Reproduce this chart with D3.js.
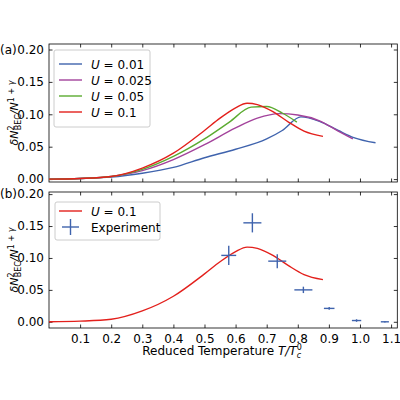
<!DOCTYPE html>
<html><head><meta charset="utf-8">
<script src="https://cdn.jsdelivr.net/npm/d3@7"></script>
<style>body{margin:0;background:#fff}text{font-family:"DejaVu Sans",sans-serif}</style>
</head><body><svg id="c" width="400" height="400"></svg>
<script>
const xU01=[0,0.1,0.2,0.3,0.4,0.5,0.6,0.7,0.75,0.81,0.87,0.93,0.98,1.05];
const yU01=[0,0.001,0.003,0.009,0.018,0.033,0.046,0.062,0.075,0.096,0.089,0.075,0.064,0.056];
const xU025=[0,0.1,0.2,0.3,0.4,0.5,0.6,0.67,0.74,0.8,0.87,0.93,0.977];
const yU025=[0,0.001,0.004,0.013,0.03,0.053,0.079,0.094,0.101,0.099,0.09,0.074,0.062];
const xU05=[0,0.1,0.2,0.3,0.4,0.5,0.58,0.65,0.7,0.75,0.797];
const yU05=[0,0.001,0.004,0.015,0.035,0.062,0.088,0.111,0.112,0.102,0.088];
const xU1=[0,0.1,0.2,0.3,0.4,0.5,0.55,0.6,0.637,0.67,0.72,0.77,0.82,0.881];
const yU1=[0,0.001,0.004,0.017,0.04,0.075,0.094,0.11,0.117,0.115,0.104,0.088,0.074,0.066];
const expX=[0.578,0.654,0.734,0.818,0.901,0.989,1.08];
const expY=[0.104,0.155,0.095,0.05,0.021,0.002,0.0];
const expXerr=[0.024,0.029,0.029,0.029,0.017,0.015,0.013];
const expYerr=[0.015,0.015,0.011,0.005,0.002,0.002,0.001];
const xTicks=[0.1,0.2,0.3,0.4,0.5,0.6,0.7,0.8,0.9,1.0,1.1];
const yTicks=[0,0.05,0.1,0.15,0.2];
const colors={b:"#3f63ad",p:"#a3429b",g:"#5bab30",r:"#e3201c"};

const svg=d3.select("#c");
const x=d3.scaleLinear().domain([0,1.12]).range([49,397.3]);
const panels=[{top:44,bot:182,lab:"(a)"},{top:192,bot:328,lab:"(b)"}];
panels[0].y=d3.scaleLinear().domain([-0.0045,0.2085]).range([182,44]);
panels[1].y=d3.scaleLinear().domain([-0.0097,0.2033]).range([328,192]);
const line=(y)=>d3.line().curve(d3.curveMonotoneX).x(d=>x(d[0])).y(d=>y(d[1]));
function drawPanel(p,i){
  const g=svg.append("g");
  const y=p.y;
  const ax=(gen,tr,lab)=>{const a=g.append("g").attr("transform",tr).call(gen);
    a.select(".domain").remove();a.selectAll("line").attr("stroke","#000").attr("stroke-width",0.8);
    a.selectAll("text").attr("font-size",12).attr("fill","#000");if(!lab)a.selectAll("text").remove();return a;};
  ax(d3.axisBottom(x).tickValues(xTicks).tickSizeInner(-3.5).tickPadding(6).tickFormat(d3.format(".1f")),`translate(0,${p.bot})`,i==1);
  ax(d3.axisTop(x).tickValues(xTicks).tickSizeInner(-3.5),`translate(0,${p.top})`,false);
  ax(d3.axisLeft(y).tickValues(yTicks).tickSizeInner(-3.5).tickPadding(5).tickFormat(d3.format(".2f")),`translate(49,0)`,true);
  ax(d3.axisRight(y).tickValues(yTicks).tickSizeInner(-3.5),`translate(397.3,0)`,false);
  g.append("rect").attr("x",49).attr("y",p.top).attr("width",348.3).attr("height",p.bot-p.top)
   .attr("fill","none").attr("stroke","#000").attr("stroke-width",0.8);
  g.append("text").attr("x",0).attr("y",p.y(0.2)+4).attr("font-size",12).text(p.lab);
  const yl=g.append("text").attr("transform",`translate(18,${(p.top+p.bot)/2}) rotate(-90)`).attr("text-anchor","middle").attr("font-size",11);
  yl.append("tspan").attr("font-style","italic").text("δN");
  yl.append("tspan").attr("font-size",8).attr("dy",-4).text("2");
  yl.append("tspan").attr("font-size",8).attr("dx",-5).attr("dy",7).text("BEC");
  yl.append("tspan").attr("dy",-3).attr("font-style","italic").text("/N");
  yl.append("tspan").attr("font-size",8).attr("dy",-4).text("1 + ");
  yl.append("tspan").attr("font-size",8).attr("font-style","italic").text("γ");
  return g;
}
const gA=drawPanel(panels[0],0), gB=drawPanel(panels[1],1);
const ya=panels[0].y, yb=panels[1].y;
const series=[[xU01,yU01,colors.b,"0.01"],[xU025,yU025,colors.p,"0.025"],[xU05,yU05,colors.g,"0.05"],[xU1,yU1,colors.r,"0.1"]];
series.forEach(s=>{
  gA.append("path").datum(s[0].map((v,k)=>[v,s[1][k]])).attr("d",line(ya)).attr("fill","none").attr("stroke",s[2]).attr("stroke-width",1.4);
});
gB.append("path").datum(xU1.map((v,k)=>[v,yU1[k]])).attr("d",line(yb)).attr("fill","none").attr("stroke",colors.r).attr("stroke-width",1.4);
expX.forEach((v,k)=>{
  gB.append("line").attr("x1",x(v-expXerr[k])).attr("x2",x(v+expXerr[k])).attr("y1",yb(expY[k])).attr("y2",yb(expY[k])).attr("stroke",colors.b).attr("stroke-width",1.4);
  gB.append("line").attr("x1",x(v)).attr("x2",x(v)).attr("y1",yb(expY[k]-expYerr[k])).attr("y2",yb(expY[k]+expYerr[k])).attr("stroke",colors.b).attr("stroke-width",1.4);
});
function legText(g,xx,yy,t){const e=g.append("text").attr("x",xx).attr("y",yy+4.5).attr("font-size",12);
  e.append("tspan").attr("font-style","italic").text("U");e.append("tspan").text(" = "+t);}
gA.append("rect").attr("x",54).attr("y",50).attr("width",96).attr("height",77).attr("rx",2).attr("fill","#fff").attr("stroke","#ccc");
series.forEach((s,k)=>{const yy=64+k*16;
  gA.append("line").attr("x1",59).attr("x2",82).attr("y1",yy).attr("y2",yy).attr("stroke",s[2]).attr("stroke-width",1.4);
  legText(gA,91,yy,s[3]);});
gB.append("rect").attr("x",55).attr("y",202).attr("width",105).attr("height",38).attr("rx",2).attr("fill","#fff").attr("stroke","#ccc");
gB.append("line").attr("x1",59).attr("x2",82).attr("y1",211).attr("y2",211).attr("stroke",colors.r).attr("stroke-width",1.4);
legText(gB,91,211,"0.1");
gB.append("line").attr("x1",62).attr("x2",79).attr("y1",227).attr("y2",227).attr("stroke",colors.b).attr("stroke-width",1.4);
gB.append("line").attr("x1",70.5).attr("x2",70.5).attr("y1",219).attr("y2",235).attr("stroke",colors.b).attr("stroke-width",1.4);
gB.append("text").attr("x",91).attr("y",231.5).attr("font-size",12).text("Experiment");
const xl=svg.append("text").attr("x",222).attr("y",355).attr("text-anchor","middle").attr("font-size",12);
xl.append("tspan").text("Reduced Temperature ");
xl.append("tspan").attr("font-style","italic").text("T/T");
xl.append("tspan").attr("font-size",8).attr("dy",-5).text("0");
xl.append("tspan").attr("font-size",8).attr("font-style","italic").attr("x",null).attr("dx",-5).attr("dy",8).text("c");
</script></body></html>
